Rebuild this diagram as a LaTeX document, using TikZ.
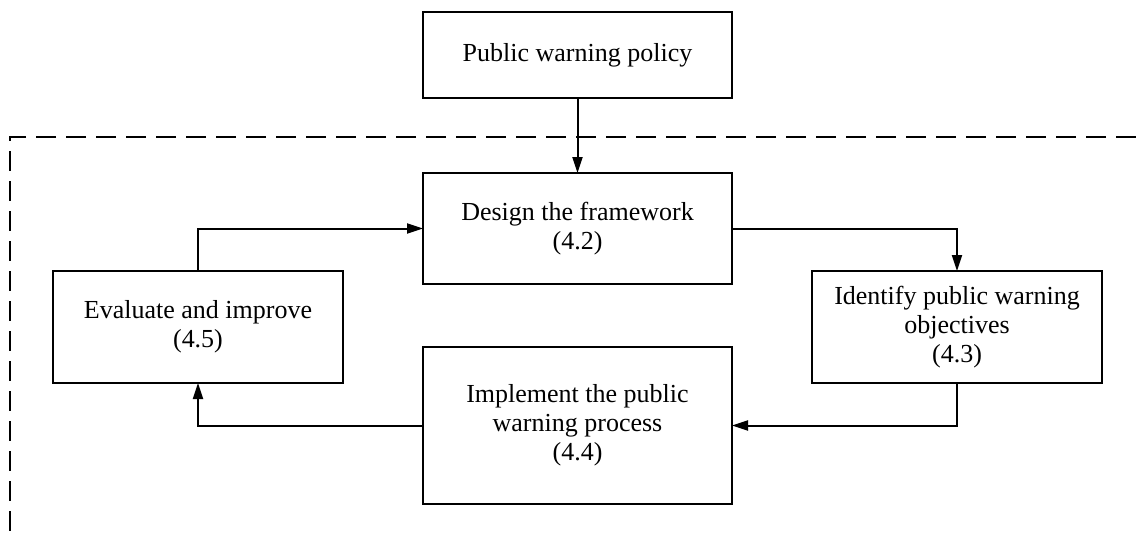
\documentclass[tikz,border=0pt]{standalone}
\usepackage{fontspec}
\setmainfont{Liberation Serif}
\usetikzlibrary{arrows.meta}
\begin{document}
\begin{tikzpicture}[x=1pt,y=-1pt,
  box/.style={draw,line width=2pt,inner sep=0pt,outer sep=0pt,align=center,
    font=\fontsize{26}{29}\selectfont},
  conn/.style={line width=2pt,-{Triangle[length=16pt,width=10pt]}},
  frame/.style={line width=2pt,dash pattern=on 20pt off 10pt}]
\useasboundingbox (0,0) rectangle (1136,539);
\node[box,minimum width=309pt,minimum height=86pt] (policy) at (577.5,55) {Public warning policy};
\node[box,minimum width=309pt,minimum height=111pt] (design) at (577.5,228.5) {Design the framework\\(4.2)};
\node[box,minimum width=290pt,minimum height=112pt] (eval) at (198,327) {Evaluate and improve\\(4.5)};
\node[box,minimum width=290pt,minimum height=112pt] (ident) at (957,327) {Identify public warning\\objectives\\(4.3)};
\node[box,minimum width=309pt,minimum height=157pt] (impl) at (577.5,425.5) {Implement the public\\warning process\\(4.4)};
\coordinate (fr) at (1136,137);
\coordinate (fc) at (10,137);
\coordinate (fb) at (10,539);
\draw[frame] (fr) -- (fc) -- (fb);
\draw[conn] (policy.south) -- (design.north);
\draw[conn] (eval.north) |- (design.west);
\draw[conn] (design.east) -| (ident.north);
\draw[conn] (ident.south) |- (impl.east);
\draw[conn] (impl.west) -| (eval.south);
\end{tikzpicture}
\end{document}
